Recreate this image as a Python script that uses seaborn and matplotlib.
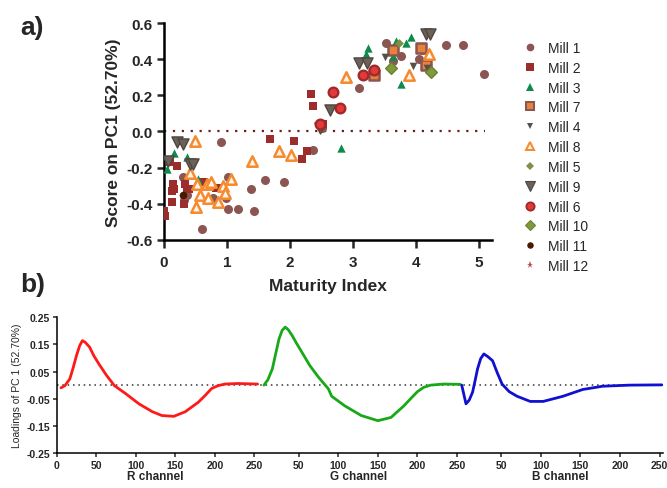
import seaborn as sns
import pandas as pd
import matplotlib
matplotlib.use("Agg")
import matplotlib.pyplot as plt
from matplotlib.lines import Line2D

sns.set_style("white")
plt.rcParams['font.family'] = ['Liberation Sans', 'DejaVu Sans']

# ---- panel a: PCA scores vs maturity index ----
mill1_x = [0.9, 0.3, 0.36, 0.32, 0.6, 0.78, 0.99, 1.02, 1.02, 1.18, 1.38, 1.43, 1.6, 1.91, 2.36, 2.5,
           3.1, 3.52, 3.63, 3.76, 4.05, 4.1, 4.15, 4.47, 4.75, 5.08]
mill1_y = [-0.06, -0.25, -0.35, -0.38, -0.54, -0.37, -0.37, -0.25, -0.43, -0.43, -0.32, -0.44, -0.27, -0.28, -0.10, 0.02,
           0.24, 0.49, 0.39, 0.42, 0.40, 0.45, 0.38, 0.48, 0.48, 0.32]
mill2_x = [0.09, 0.21, 0.0, 0.02, 0.15, 0.12, 0.16, 0.12, 0.33, 0.36, 0.40, 0.32, 0.64, 0.82, 0.88,
           1.68, 2.06, 2.19, 2.27, 2.33, 2.37, 2.52]
mill2_y = [-0.17, -0.19, -0.44, -0.47, -0.29, -0.33, -0.32, -0.39, -0.29, -0.32, -0.32, -0.40, -0.28, -0.31, -0.31,
           -0.04, -0.05, -0.15, -0.11, 0.21, 0.14, 0.04]
mill3_x = [0.16, 0.36, 0.05, 0.54, 2.81, 3.23, 3.2, 3.68, 3.84, 3.92, 3.63, 3.76]
mill3_y = [-0.12, -0.14, -0.21, -0.26, -0.09, 0.46, 0.43, 0.50, 0.49, 0.52, 0.42, 0.26]
mill7_x = [3.34, 3.63, 4.08, 4.15]
mill7_y = [0.31, 0.45, 0.46, 0.37]
mill4_x = [3.51, 3.95, 4.18]
mill4_y = [0.41, 0.36, 0.35]
mill8_x = [0.49, 0.41, 0.51, 0.57, 0.70, 0.68, 0.74, 0.86, 0.94, 0.97, 1.07, 0.52, 1.40, 1.82, 2.01, 2.89, 3.89, 4.21]
mill8_y = [-0.05, -0.23, -0.42, -0.35, -0.37, -0.29, -0.28, -0.39, -0.30, -0.34, -0.26, -0.29, -0.165, -0.11, -0.13,
           0.30, 0.31, 0.43]
mill5_x = [3.59, 3.73, 4.21]
mill5_y = [0.35, 0.49, 0.33]
mill9_x = [0.2, 0.3, 0.07, 0.41, 0.46, 2.47, 2.64, 3.1, 3.22, 4.15, 4.22]
mill9_y = [-0.06, -0.07, -0.165, -0.18, -0.18, 0.02, 0.12, 0.38, 0.38, 0.54, 0.54]
mill6_x = [2.47, 2.68, 2.8, 3.16, 3.33]
mill6_y = [0.04, 0.22, 0.13, 0.31, 0.34]
mill10_x = [3.6, 4.24]
mill10_y = [0.35, 0.33]
mill11_x = [0.3]
mill11_y = [-0.35]
mill12_x = []
mill12_y = []

mills = ["Mill 1", "Mill 2", "Mill 3", "Mill 7", "Mill 4", "Mill 8",
         "Mill 5", "Mill 9", "Mill 6", "Mill 10", "Mill 11", "Mill 12"]
mill_data = {
    "Mill 1": (mill1_x, mill1_y), "Mill 2": (mill2_x, mill2_y), "Mill 3": (mill3_x, mill3_y),
    "Mill 7": (mill7_x, mill7_y), "Mill 4": (mill4_x, mill4_y), "Mill 8": (mill8_x, mill8_y),
    "Mill 5": (mill5_x, mill5_y), "Mill 9": (mill9_x, mill9_y), "Mill 6": (mill6_x, mill6_y),
    "Mill 10": (mill10_x, mill10_y), "Mill 11": (mill11_x, mill11_y), "Mill 12": (mill12_x, mill12_y),
}
# marker, size (pt), face, edge, edge width
styles = {
    "Mill 1": ("o", 6.5, "#8b5552", "#8b5552", 0),
    "Mill 2": ("s", 6.0, "#9b2d2d", "#9b2d2d", 0),
    "Mill 3": ("^", 6.0, "#0e8a4a", "#0e8a4a", 0),
    "Mill 7": ("s", 6.5, "#e8823a", "#8b5552", 1.8),
    "Mill 4": ("v", 5.5, "#555048", "#555048", 0),
    "Mill 8": ("^", 7.5, "#fff4ea", "#f58a2e", 1.8),
    "Mill 5": ("D", 4.5, "#7f8f45", "#7f8f45", 0),
    "Mill 9": ("v", 8.0, "#6b6158", "#4e4741", 1.0),
    "Mill 6": ("o", 7.0, "#e03a3a", "#a02828", 1.6),
    "Mill 10": ("D", 6.0, "#7f9a3a", "#6d8230", 1.0),
    "Mill 11": ("o", 5.5, "#4a1a00", "#4a1a00", 0),
    "Mill 12": ("*", 6.0, "#b04848", "#b04848", 0),
}

fig = plt.figure(figsize=(6.67, 4.89), dpi=100)
ax = fig.add_axes([0.2459, 0.5072, 0.4913, 0.4437])

for m in mills:
    xs, ys = mill_data[m]
    if len(xs) == 0:
        continue
    mk, ms, fc, ec, lw = styles[m]
    df = pd.DataFrame({"x": xs, "y": ys})
    sns.scatterplot(data=df, x="x", y="y", marker=mk, s=ms ** 2, color=fc,
                    edgecolor=ec, linewidth=lw, ax=ax, zorder=3)

ax.axhline(0, xmin=0, xmax=5.1 / 5.2, color="#6b1f1f", linestyle=(0, (1, 3)), linewidth=1.6, zorder=1)
ax.set_xlim(0, 5.2)
ax.set_ylim(-0.6, 0.6)
ax.set_xticks([0, 1, 2, 3, 4, 5])
ax.set_yticks([-0.6, -0.4, -0.2, 0.0, 0.2, 0.4, 0.6])
ax.set_yticklabels(["-0.6", "-0.4", "-0.2", "0.0", "0.2", "0.4", "0.6"])
ax.set_xlabel("Maturity Index", fontsize=12.5, fontweight="bold", labelpad=6)
ax.set_ylabel("Score on PC1 (52.70%)", fontsize=12.5, fontweight="bold", labelpad=4)
sns.despine(ax=ax)
for s in ["left", "bottom"]:
    ax.spines[s].set_linewidth(1.8)
    ax.spines[s].set_color("black")
ax.tick_params(axis="x", direction="out", length=6, width=1.8, labelsize=11, pad=5, bottom=True)
ax.tick_params(axis="y", direction="out", length=5, width=1.8, labelsize=11, pad=3, left=True)
for t in ax.get_xticklabels() + ax.get_yticklabels():
    t.set_fontweight("bold")

handles = []
for m in mills:
    mk, ms, fc, ec, lw = styles[m]
    handles.append(Line2D([], [], linestyle="none", marker=mk, markersize=ms * 0.85,
                          markerfacecolor=fc, markeredgecolor=ec, markeredgewidth=lw * 0.8))
fig.legend(handles, mills, loc="upper left", bbox_to_anchor=(0.764, 0.94), frameon=False,
           fontsize=10, labelspacing=0.42, handletextpad=0.7, handlelength=1.2)

fig.text(0.03, 0.942, "a)", fontsize=19, fontweight="bold", va="center")
fig.text(0.03, 0.418, "b)", fontsize=19, fontweight="bold", va="center")

# ---- panel b: PC1 loadings per colour channel ----
r_idx = [5.4, 10.4, 16.6, 21, 25, 29, 32.5, 36, 41.6, 47, 54, 63, 73, 87.5, 104, 121, 133, 148, 162.5, 179,
         188, 196, 204, 212.5, 229, 254]
r_load = [-0.010, -0.002, 0.023, 0.066, 0.109, 0.145, 0.164, 0.158, 0.140, 0.108, 0.075, 0.036, -0.002, -0.032,
          -0.069, -0.098, -0.112, -0.115, -0.098, -0.063, -0.037, -0.012, -0.002, 0.004, 0.006, 0.004]
g_idx = [6, 11, 16.6, 21, 25, 29, 33, 37, 41.6, 47, 54, 64, 75, 87.5, 91.6, 108, 129, 150, 166.6, 183, 192,
         200, 208, 216.6, 233, 254]
g_load = [0.0, 0.02, 0.06, 0.118, 0.17, 0.202, 0.214, 0.203, 0.183, 0.155, 0.121, 0.072, 0.029, -0.014, -0.041,
          -0.076, -0.112, -0.131, -0.119, -0.076, -0.048, -0.024, -0.008, 0.0, 0.004, 0.003]
b_idx = [0, 5.4, 9.5, 13.7, 17, 20, 24, 28, 33, 39, 45, 51, 60, 70, 86.6, 103, 128, 153, 178, 212, 253]
b_load = [0.0, -0.069, -0.055, -0.026, 0.018, 0.06, 0.098, 0.115, 0.105, 0.09, 0.045, 0.004, -0.024, -0.041,
          -0.06, -0.06, -0.041, -0.016, -0.004, 0.0, 0.001]

channels = ["R channel", "G channel", "B channel"]
channel_colors = ["#ff1a1a", "#18a818", "#1010d0"]
offset = 256

ax2 = fig.add_axes([0.085, 0.0716, 0.9085, 0.2775])
ax2.axhline(0, color="#333333", linestyle=(0, (1, 2.5)), linewidth=1.1, zorder=1)
for k, (idx, load) in enumerate([(r_idx, r_load), (g_idx, g_load), (b_idx, b_load)]):
    dfl = pd.DataFrame({"x": [v + k * offset for v in idx], "y": load})
    sns.lineplot(data=dfl, x="x", y="y", color=channel_colors[k], linewidth=2, ax=ax2, zorder=3)

tick_local = [0, 50, 100, 150, 200, 250]
tick_pos, tick_lab = [], []
for k in range(3):
    for t in tick_local:
        if k > 0 and t == 0:
            continue
        tick_pos.append(t + k * offset)
        tick_lab.append(str(t))
ax2.set_xticks(tick_pos)
ax2.set_xticklabels(tick_lab)
ax2.set_xlim(0, 3 * offset - 2)
ax2.set_ylim(-0.25, 0.25)
ax2.set_yticks([-0.25, -0.15, -0.05, 0.05, 0.15, 0.25])
ax2.set_yticklabels(["-0.25", "-0.15", "-0.05", "0.05", "0.15", "0.25"])
ax2.set_xlabel("")
ax2.set_ylabel("Loadings of PC 1 (52.70%)", fontsize=7.5, labelpad=3)
sns.despine(ax=ax2)
for s in ["left", "bottom"]:
    ax2.spines[s].set_linewidth(1.1)
    ax2.spines[s].set_color("black")
ax2.tick_params(axis="both", direction="out", length=3, width=1.1, labelsize=7.5, pad=2,
                left=True, bottom=True)
for t in ax2.get_xticklabels() + ax2.get_yticklabels():
    t.set_fontweight("bold")
for k, name in enumerate(channels):
    ax2.text(k * offset + 125, -0.334, name, ha="center", va="center", fontsize=8.5,
             fontweight="bold", transform=ax2.transData, clip_on=False)

fig.savefig("out.png", dpi=100)
